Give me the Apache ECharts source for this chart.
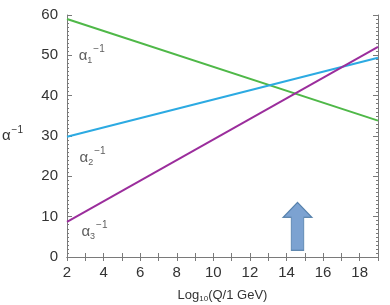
<!DOCTYPE html>
<html><head><meta charset="utf-8">
<script src="https://cdn.jsdelivr.net/npm/echarts@6/dist/echarts.min.js"></script>
<style>html,body{margin:0;padding:0;background:#fff}#c{width:390px;height:305px}</style>
</head><body><div id="c"></div>
<script>
var xRange = [2, 19];
var alpha1 = [[2, 59.0], [19, 33.8]];
var alpha2 = [[2, 29.8], [19, 49.4]];
var alpha3 = [[2, 8.7], [19, 52.1]];
var arrowPos = [[14.6, 7.6]];
var curveLabels = [
  {name: '1', value: [3.35, 49.8]},
  {name: '2', value: [3.4, 24.6]},
  {name: '3', value: [3.5, 6.2]}
];

var FONT = 'Liberation Sans, Arial, sans-serif';
var axisCol = '#7a7a7a';
var chart = echarts.init(document.getElementById('c'));
function lineSeries(data, color) {
  return {type: 'line', data: data, symbol: 'none', lineStyle: {color: color, width: 2}, silent: true, z: 3};
}
chart.setOption({
  animation: false,
  grid: {left: 67, right: 12, top: 15, bottom: 48, outerBoundsMode: 'none', containLabel: false},
  xAxis: [{
    type: 'value', min: xRange[0], max: xRange[1], interval: 2, position: 'bottom',
    axisLine: {lineStyle: {color: axisCol, width: 1}},
    axisTick: {inside: true, length: 4, lineStyle: {color: axisCol}},
    minorTick: {show: true, splitNumber: 2, length: 4, lineStyle: {color: axisCol}},
    splitLine: {show: false},
    axisLabel: {color: '#333', fontFamily: FONT, fontSize: 15, margin: 8, showMaxLabel: false},
    name: '{a|Log}{s|10}{a|(Q/1 GeV)}', nameLocation: 'middle', nameGap: 30,
    nameTextStyle: {rich: {
      a: {fontFamily: FONT, fontSize: 13, color: '#333'},
      s: {fontFamily: FONT, fontSize: 8, color: '#333', padding: [8, 0, 0, 0]}
    }}
  }, {
    type: 'value', min: xRange[0], max: xRange[1], interval: 2, position: 'top',
    axisLine: {lineStyle: {color: axisCol, width: 1}},
    axisTick: {inside: true, length: 4, lineStyle: {color: axisCol}},
    minorTick: {show: true, splitNumber: 2, length: 4, lineStyle: {color: axisCol}},
    splitLine: {show: false}, axisLabel: {show: false}
  }],
  yAxis: [{
    type: 'value', min: 0, max: 60, interval: 10, position: 'left',
    axisLine: {show: true, lineStyle: {color: axisCol, width: 1}},
    axisTick: {show: true, inside: true, length: 5, lineStyle: {color: axisCol}},
    minorTick: {show: true, splitNumber: 10, length: 2, lineStyle: {color: axisCol}},
    splitLine: {show: false},
    axisLabel: {color: '#333', fontFamily: FONT, fontSize: 15, margin: 9},
    name: '{a|α}{p|−1}', nameLocation: 'middle', nameGap: 44, nameRotate: 0,
    nameTextStyle: {rich: {
      a: {fontFamily: FONT, fontSize: 15, color: '#333'},
      p: {fontFamily: FONT, fontSize: 10, color: '#333', padding: [0, 0, 12, 1]}
    }}
  }, {
    type: 'value', min: 0, max: 60, interval: 10, position: 'right',
    axisLine: {show: true, lineStyle: {color: axisCol, width: 1}},
    axisTick: {show: true, inside: true, length: 5, lineStyle: {color: axisCol}},
    minorTick: {show: true, splitNumber: 10, length: 2, lineStyle: {color: axisCol}},
    splitLine: {show: false}, axisLabel: {show: false}
  }],
  series: [
    lineSeries(alpha1, '#4fb848'),
    lineSeries(alpha2, '#2caae2'),
    lineSeries(alpha3, '#9b2d9c'),
    {
      type: 'scatter', data: arrowPos, silent: true, z: 4,
      symbol: 'path://M15,0 L30,15 L21.5,15 L21.5,48 L8.5,48 L8.5,15 L0,15 Z',
      symbolSize: [29, 48],
      itemStyle: {color: '#5b8bc6', borderColor: '#42729f', borderWidth: 1}
    },
    {
      type: 'scatter', data: curveLabels, symbolSize: 0, silent: true, z: 5,
      label: {
        show: true, position: 'inside',
        formatter: function (p) { return '{a|α}{b|' + p.name + '}{p|−1}'; },
        rich: {
          a: {fontFamily: FONT, fontSize: 15, color: '#333'},
          b: {fontFamily: FONT, fontSize: 9, color: '#333', padding: [9, 0, 0, 0]},
          p: {fontFamily: FONT, fontSize: 10, color: '#333', padding: [0, 0, 14, 1]}
        }
      }
    }
  ]
});
</script></body></html>
